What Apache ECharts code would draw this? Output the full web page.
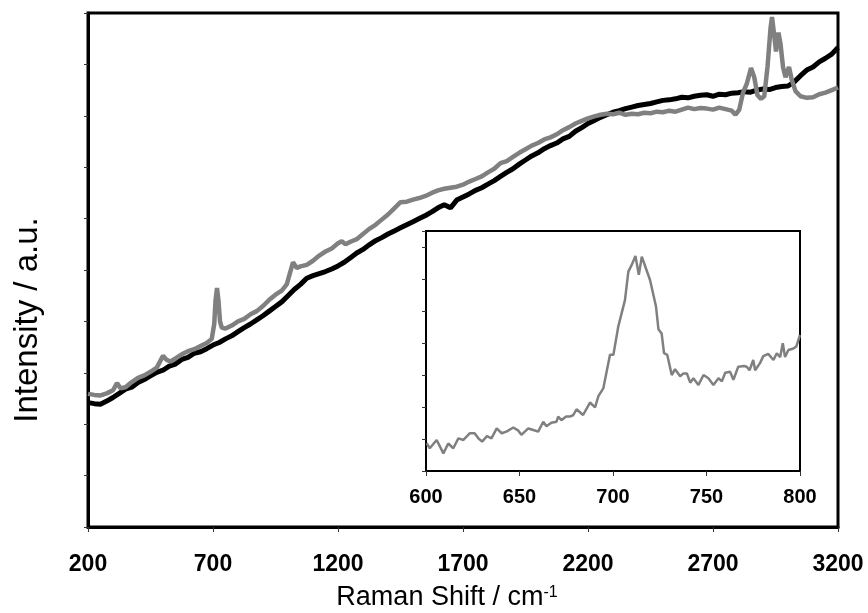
<!DOCTYPE html>
<html>
<head>
<meta charset="utf-8">
<script src="https://cdn.jsdelivr.net/npm/echarts@6/dist/echarts.min.js"></script>
<style>
html,body{margin:0;padding:0;background:#fff;}
#chart{width:868px;height:613px;}
</style>
</head>
<body>
<div id="chart"></div>
<script>
// ---- Main spectrum: black trace ----
const blackShift = [200,225,250,275,300,325,350,375,400,425,450,475,500,525,550,575,600,625,650,675,700,725,750,775,800,825,850,875,900,925,950,975,1000,1025,1050,1075,1100,1125,1150,1175,1200,1225,1250,1275,1300,1325,1350,1375,1400,1425,1450,1475,1500,1525,1550,1575,1600,1625,1650,1675,1700,1725,1750,1775,1800,1825,1850,1875,1900,1925,1950,1975,2000,2025,2050,2075,2100,2125,2150,2175,2200,2225,2250,2275,2300,2325,2350,2375,2400,2425,2450,2475,2500,2525,2550,2575,2600,2625,2650,2675,2700,2725,2750,2775,2800,2825,2850,2875,2900,2925,2950,2975,3000,3025,3050,3075,3100,3125,3150,3175,3200];
const blackIntensity = [2.42,2.40,2.39,2.45,2.52,2.60,2.68,2.72,2.81,2.87,2.94,3.01,3.05,3.13,3.17,3.26,3.30,3.38,3.41,3.47,3.54,3.59,3.66,3.72,3.80,3.88,3.95,4.03,4.11,4.20,4.29,4.38,4.50,4.62,4.72,4.84,4.89,4.93,4.97,5.02,5.08,5.15,5.24,5.33,5.40,5.49,5.57,5.63,5.70,5.76,5.82,5.88,5.94,6.00,6.06,6.13,6.21,6.27,6.21,6.36,6.42,6.48,6.55,6.60,6.67,6.74,6.82,6.90,6.97,7.06,7.14,7.22,7.28,7.36,7.42,7.47,7.55,7.60,7.70,7.77,7.85,7.91,7.97,8.02,8.07,8.10,8.14,8.17,8.20,8.22,8.24,8.27,8.30,8.31,8.33,8.36,8.35,8.38,8.40,8.41,8.38,8.42,8.41,8.44,8.45,8.47,8.46,8.50,8.52,8.51,8.55,8.57,8.58,8.66,8.78,8.89,8.95,9.05,9.12,9.20,9.33];

// ---- Main spectrum: grey trace ----
const greyShift = [200,225,250,275,300,316,330,350,375,400,425,450,475,500,515,530,550,575,600,625,650,675,695,705,710,716,722,728,735,750,775,800,825,850,875,900,925,950,975,995,1010,1020,1035,1050,1075,1100,1125,1150,1175,1200,1215,1230,1250,1275,1300,1325,1350,1375,1400,1425,1450,1475,1500,1525,1550,1575,1600,1625,1650,1675,1700,1725,1750,1775,1800,1825,1850,1875,1900,1925,1950,1975,2000,2025,2050,2075,2100,2125,2150,2175,2200,2225,2250,2275,2300,2325,2350,2375,2400,2425,2450,2475,2500,2525,2550,2575,2600,2625,2650,2675,2700,2725,2750,2775,2790,2805,2820,2835,2852,2865,2878,2892,2905,2918,2930,2936,2944,2952,2962,2970,2980,2990,3004,3015,3030,3050,3075,3100,3125,3150,3175,3200];
const greyIntensity = [2.59,2.57,2.56,2.60,2.66,2.80,2.70,2.72,2.82,2.90,2.95,3.02,3.10,3.33,3.25,3.22,3.28,3.36,3.42,3.46,3.52,3.58,3.66,3.95,4.40,4.65,4.40,4.00,3.88,3.86,3.92,4.00,4.05,4.14,4.20,4.30,4.42,4.52,4.60,4.72,4.98,5.15,5.04,5.07,5.10,5.18,5.28,5.36,5.42,5.52,5.56,5.50,5.55,5.60,5.70,5.80,5.88,5.98,6.08,6.20,6.32,6.33,6.37,6.40,6.44,6.50,6.55,6.58,6.60,6.62,6.66,6.72,6.77,6.82,6.90,6.97,7.08,7.12,7.20,7.28,7.35,7.42,7.47,7.54,7.58,7.64,7.72,7.78,7.85,7.90,7.95,7.99,8.02,8.04,8.03,8.06,8.02,8.04,8.03,8.06,8.05,8.08,8.07,8.10,8.08,8.12,8.16,8.13,8.15,8.14,8.12,8.16,8.13,8.10,8.02,8.12,8.45,8.62,8.93,8.75,8.40,8.33,8.38,8.95,9.70,9.92,9.60,9.25,9.62,9.40,8.95,8.75,8.95,8.70,8.48,8.38,8.35,8.36,8.42,8.45,8.50,8.55];

// ---- Inset: grey trace, 600-800 cm-1 ----
const insetShift = [600.4,602,605.7,609.3,611.9,614.6,617.3,620,623.5,626,628,630,632.6,635,637.8,640.5,643,646.7,649.4,651,654.7,657.4,660,662.7,664.4,667,669.8,670.7,672.4,675,677,678.8,680.5,684,687.7,690.4,692.2,694.8,698.4,700.2,702.8,706.4,708.2,710,712,713.8,715.4,719.8,723,724.3,726,727.3,729,731.4,733.2,735.9,737.7,739.5,741.3,743,745.7,748.4,751,753.7,756.4,758.2,760,762.6,764.4,767,770,771.5,773,775,776,778.6,780.4,783,785.8,787.6,789.4,790.8,792,793.8,796.5,798,800];
const insetIntensity = [0.87,0.71,0.97,0.55,0.86,0.71,1.02,0.97,1.18,1.18,1.02,0.92,1.09,1.02,1.33,1.18,1.23,1.36,1.26,1.13,1.33,1.28,1.23,1.54,1.40,1.51,1.54,1.70,1.59,1.70,1.70,1.75,1.93,1.75,2.14,1.99,2.34,2.58,3.63,3.63,4.51,5.34,6.23,6.44,6.72,6.13,6.70,5.97,5.14,4.43,4.30,3.68,3.63,3.00,3.18,2.96,3.05,3.05,2.76,2.90,2.69,3.00,2.90,2.69,2.90,2.80,3.07,3.10,2.85,3.26,3.28,3.26,3.15,3.47,3.15,3.37,3.59,3.66,3.47,3.68,3.56,3.99,3.56,3.78,3.83,3.89,4.25];

const mainTicks = [200,700,1200,1700,2200,2700,3200];
const insetTicks = [600,650,700,750,800];

const zip = (xs, ys) => xs.map((x, i) => [x, ys[i]]);
const plain = v => String(v);

const chart = echarts.init(document.getElementById('chart'), null, {renderer: 'canvas'});
const font = '"Liberation Sans", Arial, sans-serif';

chart.setOption({
  animation: false,
  backgroundColor: '#fff',
  grid: [
    {left: 88, top: 13, width: 750, height: 514, show: true, borderColor: '#000', borderWidth: 3, backgroundColor: 'transparent', containLabel: false},
    {left: 426, top: 231, width: 374, height: 240, show: true, borderColor: '#000', borderWidth: 2, backgroundColor: '#fff', containLabel: false, z: 5}
  ],
  xAxis: [
    {
      gridIndex: 0, type: 'value', min: mainTicks[0], max: mainTicks[mainTicks.length - 1], interval: 500,
      axisLine: {show: true, lineStyle: {color: '#000', width: 3}},
      axisTick: {show: true, inside: false, length: 5, lineStyle: {color: '#333', width: 1}},
      axisLabel: {show: true, margin: 26, color: '#000', fontFamily: font, fontWeight: 'bold', fontSize: 23, formatter: plain},
      splitLine: {show: false}
    },
    {
      gridIndex: 1, type: 'value', min: insetTicks[0], max: insetTicks[insetTicks.length - 1], interval: 50, z: 6,
      axisLine: {show: true, lineStyle: {color: '#000', width: 2}},
      axisTick: {show: true, inside: false, length: 5, lineStyle: {color: '#333', width: 1}},
      axisLabel: {show: true, margin: 16, color: '#000', fontFamily: font, fontWeight: 'bold', fontSize: 20, formatter: plain},
      splitLine: {show: false}
    }
  ],
  yAxis: [
    {
      gridIndex: 0, type: 'value', min: 0, max: 10, interval: 1,
      axisLine: {show: true, lineStyle: {color: '#000', width: 3}},
      axisTick: {show: true, inside: false, length: 4, lineStyle: {color: '#333', width: 1}},
      axisLabel: {show: false},
      splitLine: {show: false}
    },
    {
      gridIndex: 1, type: 'value', min: 0, max: 7.5, interval: 1, z: 6,
      axisLine: {show: true, lineStyle: {color: '#000', width: 2}},
      axisTick: {show: true, inside: false, length: 4, lineStyle: {color: '#333', width: 1}},
      axisLabel: {show: false},
      splitLine: {show: false}
    }
  ],
  series: [
    {type: 'line', xAxisIndex: 0, yAxisIndex: 0, data: zip(blackShift, blackIntensity), showSymbol: false, symbol: 'none',
     lineStyle: {color: '#000', width: 5}, z: 2},
    {type: 'line', xAxisIndex: 0, yAxisIndex: 0, data: zip(greyShift, greyIntensity), showSymbol: false, symbol: 'none',
     lineStyle: {color: '#808080', width: 4.5}, z: 3},
    {type: 'line', xAxisIndex: 1, yAxisIndex: 1, data: zip(insetShift, insetIntensity), showSymbol: false, symbol: 'none',
     lineStyle: {color: '#808080', width: 2.5}, z: 7}
  ],
  graphic: [
    {
      type: 'text', x: 447, y: 598, z: 10,
      style: {
        text: 'Raman Shift / cm{sup|-1}',
        fill: '#000', font: '27px ' + font,
        textAlign: 'center', textVerticalAlign: 'middle',
        rich: {sup: {fontSize: 16, fontFamily: font, verticalAlign: 'top', fill: '#000', padding: [0, 0, 10, 0]}}
      }
    },
    {
      type: 'text', x: 28, y: 320, rotation: Math.PI / 2, z: 10,
      style: {
        text: 'Intensity / a.u.',
        fill: '#000', font: '33px ' + font,
        textAlign: 'center', textVerticalAlign: 'middle'
      }
    }
  ]
});
</script>
</body>
</html>
